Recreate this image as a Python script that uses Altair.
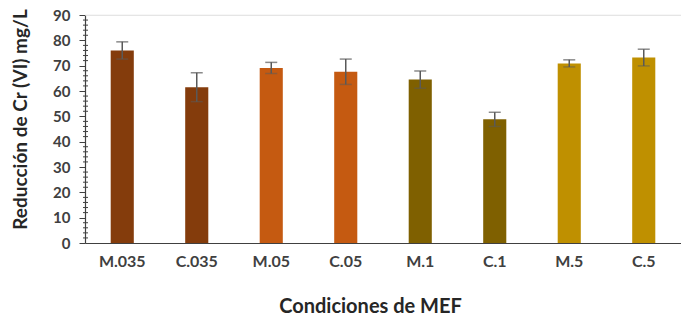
import altair as alt
import pandas as pd

# Reducción de Cr (VI) por condición de MEF
categories = ["M.035", "C.035", "M.05", "C.05", "M.1", "C.1", "M.5", "C.5"]
reduction = [76.0, 61.5, 69.1, 67.6, 64.5, 48.8, 70.9, 73.2]
error = [3.4, 5.7, 2.2, 5.0, 3.4, 2.8, 1.4, 3.3]
bar_colors = ["#843C0C", "#843C0C", "#C55A11", "#C55A11",
              "#7F6000", "#7F6000", "#BF9000", "#BF9000"]
y_ticks = [0, 10, 20, 30, 40, 50, 60, 70, 80, 90]
minor_ticks = [v for v in range(2, 90, 2) if v % 10]

df = pd.DataFrame({"cond": categories, "val": reduction, "err": error})
df["lo"] = df["val"] - df["err"]
df["hi"] = df["val"] + df["err"]

FONT = "Lato"
W, H = 596, 228

xaxis = alt.Axis(title="Condiciones de MEF", labelAngle=0, ticks=False,
                 labelFont=FONT, labelFontSize=16, labelFontWeight="bold",
                 labelColor="#404040", labelPadding=10,
                 titleFont=FONT, titleFontSize=20, titleFontWeight="bold",
                 titleColor="#262626", titlePadding=27, titleX=285,
                 titleAlign="center",
                 domainColor="#404040", domainWidth=1.2)
xenc = alt.X("cond:N", sort=categories,
             scale=alt.Scale(paddingInner=0.69, paddingOuter=0.345),
             axis=xaxis)
yscale = alt.Scale(domain=[0, 90], nice=False)
yaxis = alt.Axis(title="Reducción de Cr (VI) mg/L", values=y_ticks, grid=False,
                 labelOverlap=False,
                 tickSize=6, tickColor="#404040", domainColor="#404040",
                 domainWidth=1.2, labelPadding=9,
                 labelFont=FONT, labelFontSize=15, labelFontWeight="bold",
                 labelColor="#404040",
                 titleFont=FONT, titleFontSize=19, titleFontWeight="bold",
                 titleColor="#262626", titlePadding=22, titleY=104,
                 titleAlign="center")

base = alt.Chart(df)

top_line = alt.Chart(pd.DataFrame({"v": [90]})).mark_rule(
    color="#eeeeee", strokeWidth=1
).encode(y=alt.Y("v:Q", scale=yscale, axis=yaxis))

bars = base.mark_bar().encode(
    x=xenc,
    y=alt.Y("val:Q", scale=yscale, axis=yaxis),
    color=alt.Color("cond:N", scale=alt.Scale(domain=categories, range=bar_colors),
                    legend=None),
)

err_rule = base.mark_rule(color="#595959", strokeWidth=1.5).encode(
    x=alt.X("cond:N", sort=categories, axis=xaxis),
    y=alt.Y("lo:Q", scale=yscale, axis=yaxis), y2="hi:Q"
)
cap_hi = base.mark_tick(color="#595959", thickness=1.5, size=12).encode(
    x=alt.X("cond:N", sort=categories, axis=xaxis),
    y=alt.Y("hi:Q", scale=yscale, axis=yaxis)
)
cap_lo = base.mark_tick(color="#595959", thickness=1.5, size=12, opacity=0.5).encode(
    x=alt.X("cond:N", sort=categories, axis=xaxis),
    y=alt.Y("lo:Q", scale=yscale, axis=yaxis)
)

minor = alt.Chart(pd.DataFrame({"v": minor_ticks})).mark_rule(
    color="#404040", strokeWidth=1
).encode(y=alt.Y("v:Q", scale=yscale, axis=yaxis), x=alt.value(-2), x2=alt.value(3))

chart = alt.layer(top_line, bars, err_rule, cap_hi, cap_lo, minor).properties(
    width=W, height=H,
    autosize=alt.AutoSizeParams(type="none"),
    padding={"left": 85, "top": 15, "right": 0, "bottom": 77},
).configure_view(stroke=None).configure(background="white")

chart.save("out.html", embed_options={"renderer": "svg", "actions": False})
